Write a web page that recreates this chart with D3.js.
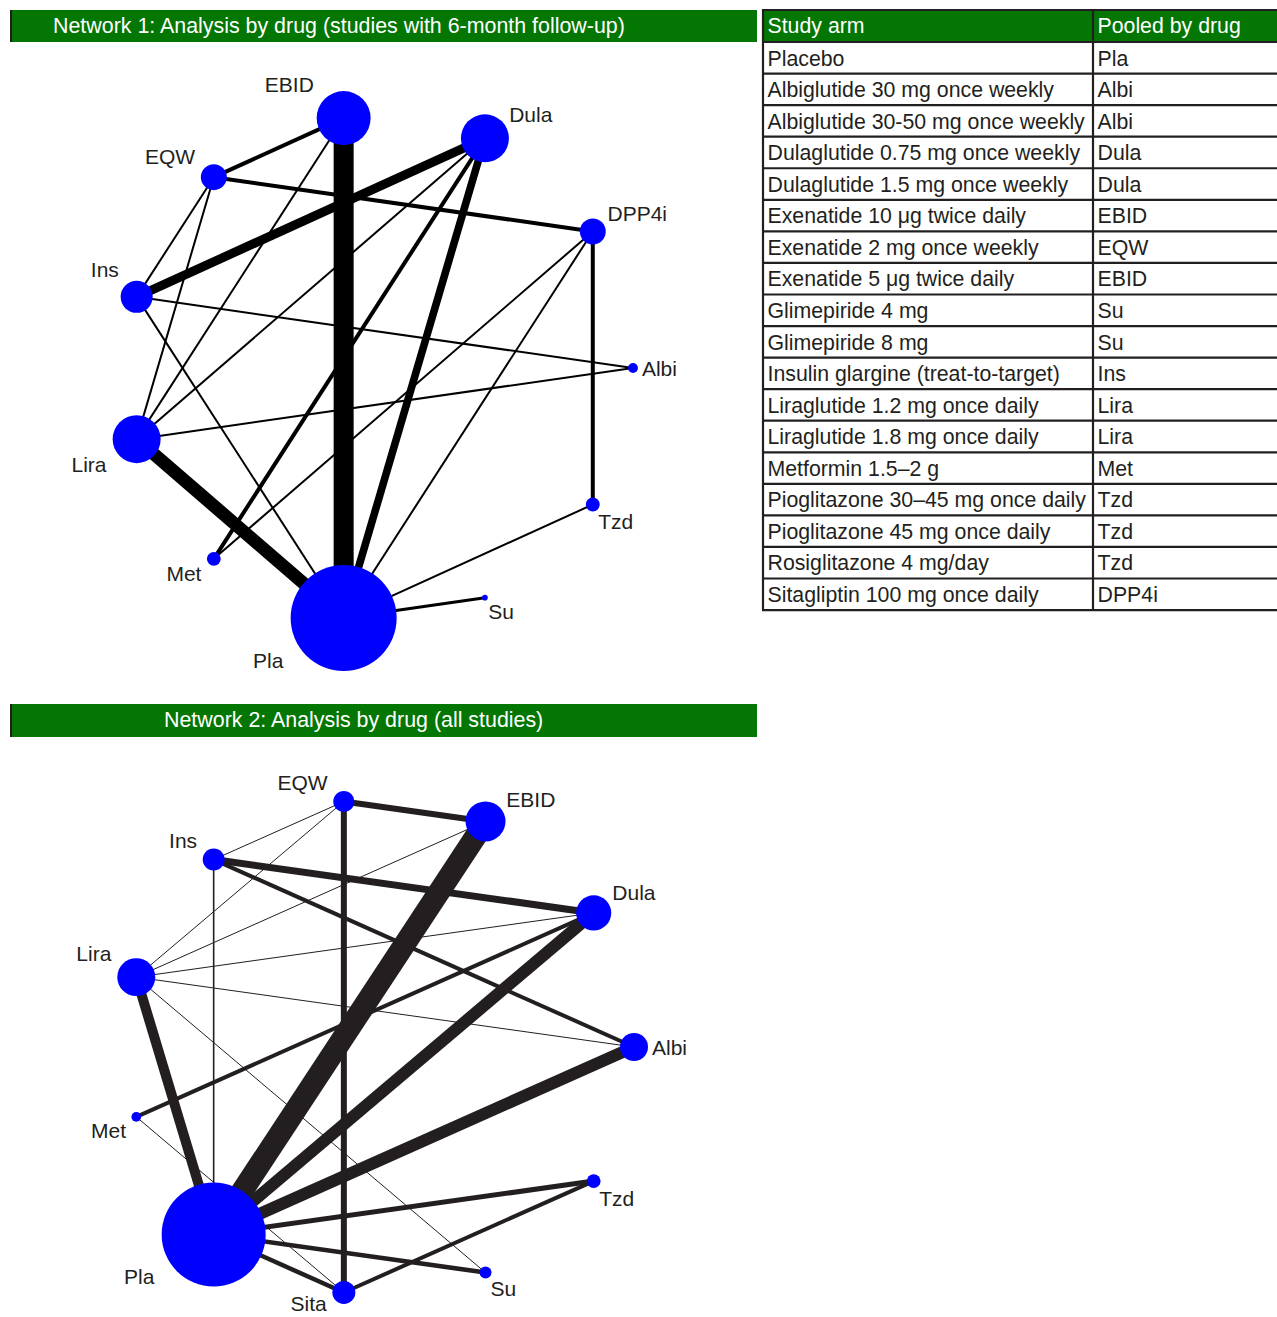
<!DOCTYPE html>
<html>
<head>
<meta charset="utf-8">
<script src="https://cdn.jsdelivr.net/npm/d3@7"></script>
<style>
  body { margin: 0; background: #fff; }
  text { font-family: "Liberation Sans", Arial, Helvetica, sans-serif; }
</style>
</head>
<body>
<script>
// Network 1: drugs (alphabetical order = order round the circle)
const net1Nodes = ["Albi", "DPP4i", "Dula", "EBID", "EQW", "Ins", "Lira", "Met", "Pla", "Su", "Tzd"];
const net1Size  = [6, 42, 144, 182, 42, 64, 144, 12, 702, 2, 12];
const net1Clock = [3, 2, 2, 10.3, 10, 10.5, 8, 8, 8, 5, 5];
const net1Edges = [
    ["EBID", "Pla", 10], ["Lira", "Pla", 6.5], ["Dula", "Ins", 4.5], ["Dula", "Pla", 3.8],
    ["EBID", "EQW", 2], ["EQW", "DPP4i", 2], ["DPP4i", "Tzd", 2], ["Dula", "Met", 2],
    ["Su", "Pla", 1.5], ["Tzd", "Pla", 1], ["EBID", "Lira", 1], ["Dula", "Lira", 1],
    ["DPP4i", "Met", 1], ["DPP4i", "Pla", 1], ["Ins", "Albi", 1], ["Lira", "Albi", 1],
    ["Ins", "EQW", 1], ["EQW", "Lira", 1], ["Ins", "Pla", 1]
];

// Network 2
const net2Nodes = ["Albi", "Dula", "EBID", "EQW", "Ins", "Lira", "Met", "Pla", "Sita", "Su", "Tzd"];
const net2Size  = [49, 77, 100, 28, 30, 90, 6, 676, 33, 9, 12];
const net2Clock = [3, 2, 2, 10, 10, 10, 8, 8, 8, 5, 5];
const net2Edges = [
    ["EBID", "Pla", 11], ["Dula", "Pla", 6], ["Albi", "Pla", 6], ["Lira", "Pla", 5],
    ["Ins", "Dula", 3.5], ["EQW", "EBID", 3], ["EQW", "Sita", 3], ["Ins", "Albi", 2],
    ["Dula", "Met", 2], ["Tzd", "Pla", 2.5], ["Su", "Pla", 2.25], ["Sita", "Pla", 2.25],
    ["Tzd", "Sita", 2], ["Ins", "Pla", 0.8], ["EQW", "Ins", 0.5], ["EQW", "Lira", 0.5],
    ["EBID", "Lira", 0.5], ["Dula", "Lira", 0.5], ["Lira", "Albi", 0.5], ["Lira", "Su", 0.5],
    ["Met", "Sita", 0.5]
];

const titles = [
    "Network 1: Analysis by drug (studies with 6-month follow-up)",
    "Network 2: Analysis by drug (all studies)"
];

const tableHeader = ["Study arm", "Pooled by drug"];
const studyArms = [
    "Placebo", "Albiglutide 30 mg once weekly", "Albiglutide 30-50 mg once weekly",
    "Dulaglutide 0.75 mg once weekly", "Dulaglutide 1.5 mg once weekly",
    "Exenatide 10 μg twice daily", "Exenatide 2 mg once weekly", "Exenatide 5 μg twice daily",
    "Glimepiride 4 mg", "Glimepiride 8 mg", "Insulin glargine (treat-to-target)",
    "Liraglutide 1.2 mg once daily", "Liraglutide 1.8 mg once daily", "Metformin 1.5–2 g",
    "Pioglitazone 30–45 mg once daily", "Pioglitazone 45 mg once daily",
    "Rosiglitazone 4 mg/day", "Sitagliptin 100 mg once daily"
];
const pooledDrug = [
    "Pla", "Albi", "Albi", "Dula", "Dula", "EBID", "EQW", "EBID", "Su", "Su", "Ins",
    "Lira", "Lira", "Met", "Tzd", "Tzd", "Tzd", "DPP4i"
];

const width = 1277;
const height = 1317;
const green = "#037603";
const ink = "#231f20";

const svg = d3.select("body").append("svg")
    .attr("width", width)
    .attr("height", height);

// shared scales
const rScale = d3.scaleSqrt().domain([0, 702]).range([0, 53]);
const wScale = d3.scaleLinear().domain([0, 10]).range([0, 20]);

const clockDir = c => {
    const a = (90 - c * 30) * Math.PI / 180;
    return [Math.cos(a), -Math.sin(a)];
};

const titleBar = (y, h, tx, ty, label) => {
    svg.append("rect")
        .attr("x", 10).attr("y", y)
        .attr("width", 747).attr("height", h)
        .attr("fill", green);
    svg.append("rect")
        .attr("x", 10).attr("y", y)
        .attr("width", 2).attr("height", h)
        .attr("fill", ink);
    svg.append("text")
        .attr("x", tx).attr("y", ty)
        .attr("fill", "#fff")
        .attr("font-size", 21.4)
        .text(label);
};

const plotNetwork = (nodes, sizes, clocks, edges, box, lineColor) => {
    const n = nodes.length;
    const x = d3.scaleLinear().domain([-1, 1]).range([box.cx - box.rx, box.cx + box.rx]);
    const y = d3.scaleLinear().domain([-1, 1]).range([box.cy + box.ry, box.cy - box.ry]);

    const datum = nodes.map((name, i) => {
        const a = i * 2 * Math.PI / n;
        return { name, x: x(Math.cos(a)), y: y(Math.sin(a)), r: rScale(sizes[i]), clock: clocks[i] };
    });
    const byName = new Map(datum.map(d => [d.name, d]));

    const g = svg.append("g");

    g.selectAll("line")
        .data(edges)
        .join("line")
            .attr("stroke", lineColor)
            .attr("stroke-width", d => wScale(d[2]))
            .attr("x1", d => byName.get(d[0]).x)
            .attr("y1", d => byName.get(d[0]).y)
            .attr("x2", d => byName.get(d[1]).x)
            .attr("y2", d => byName.get(d[1]).y);

    g.selectAll("circle")
        .data(datum)
        .join("circle")
            .attr("fill", "#0000ff")
            .attr("cx", d => d.x)
            .attr("cy", d => d.y)
            .attr("r", d => d.r);

    g.selectAll("text")
        .data(datum)
        .join("text")
            .attr("font-size", 21)
            .attr("fill", ink)
            .each(function(d) {
                const [dx, dy] = clockDir(d.clock);
                const dist = dx < 0 ? 1.2 * d.r + 6 : d.r + 4;
                const px = d.x + dist * dx;
                const py = d.y + dist * dy;
                const base = dy < -0.2 ? py - 2 : (dy > 0.2 ? py + 15 : py + 7.5);
                d3.select(this)
                    .attr("x", px)
                    .attr("y", Math.min(base, height - 6))
                    .attr("text-anchor", dx > 0.2 ? "start" : (dx < -0.2 ? "end" : "middle"));
            })
            .text(d => d.name);
};

titleBar(10, 32, 53, 33, titles[0]);
plotNetwork(net1Nodes, net1Size, net1Clock, net1Edges,
    { cx: 379.7, cy: 368, rx: 253.3, ry: 252.5 }, "#000");

titleBar(704, 33, 164, 727, titles[1]);
plotNetwork(net2Nodes, net2Size, net2Clock, net2Edges,
    { cx: 380, cy: 1047, rx: 254, ry: 248 }, ink);

// table
const tX = 763;
const colX = [tX, 1093];
const tTop = 10;
const headH = 32;
const rowH = 31.56;
const rows = studyArms.map((d, i) => [d, pooledDrug[i]]);
const tBottom = tTop + headH + rows.length * rowH;

const table = svg.append("g");

table.append("rect")
    .attr("x", tX).attr("y", tTop)
    .attr("width", width - tX + 5).attr("height", headH)
    .attr("fill", green);

table.selectAll(".head")
    .data(tableHeader)
    .join("text")
        .attr("class", "head")
        .attr("x", (_, i) => colX[i] + 4.5)
        .attr("y", tTop + 22.8)
        .attr("fill", "#fff")
        .attr("font-size", 21.3)
        .text(d => d);

const rowY = i => tTop + headH + i * rowH;

table.selectAll(".row")
    .data(rows)
    .join("g")
        .attr("class", "row")
        .attr("transform", (_, i) => `translate(0, ${rowY(i)})`)
        .selectAll("text")
        .data(d => d)
        .join("text")
            .attr("x", (_, j) => colX[j] + 4.5)
            .attr("y", 23.5)
            .attr("fill", ink)
            .attr("font-size", 21.3)
            .text(d => d);

table.selectAll(".hline")
    .data(d3.range(rows.length + 2))
    .join("line")
        .attr("class", "hline")
        .attr("stroke", ink)
        .attr("stroke-width", 2.2)
        .attr("x1", tX - 1)
        .attr("x2", width + 2)
        .attr("y1", i => i === 0 ? tTop : rowY(i - 1))
        .attr("y2", i => i === 0 ? tTop : rowY(i - 1));

table.selectAll(".vline")
    .data(colX)
    .join("line")
        .attr("class", "vline")
        .attr("stroke", ink)
        .attr("stroke-width", 2.2)
        .attr("x1", d => d)
        .attr("x2", d => d)
        .attr("y1", tTop)
        .attr("y2", tBottom);
</script>
</body>
</html>
